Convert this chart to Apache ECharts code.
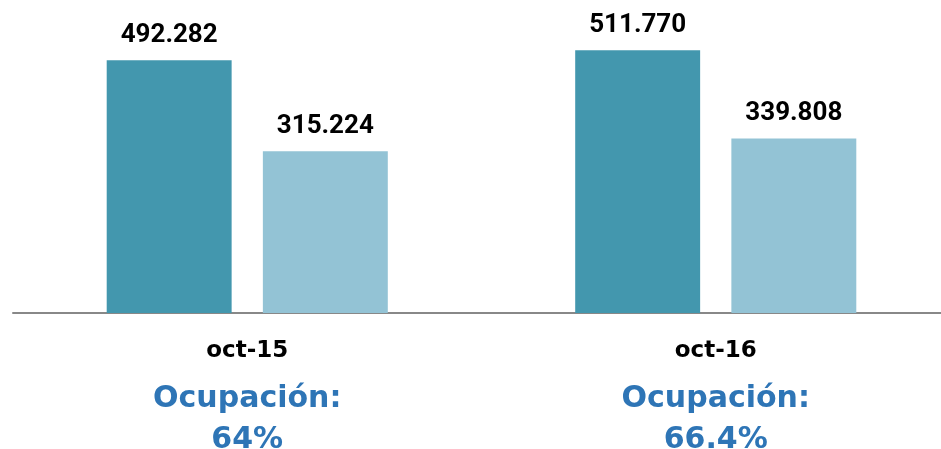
<!DOCTYPE html>
<html>
<head>
<meta charset="utf-8">
<script src="https://cdn.jsdelivr.net/npm/echarts@6/dist/echarts.min.js"></script>
<style>
  html, body { margin: 0; padding: 0; background: #fff; }
  #myChart { width: 941px; height: 449px; }
</style>
</head>
<body>
<div id="myChart"></div>
<script>
// datos
var categories = ['oct-15', 'oct-16'];
var serieA = [492282, 511770];
var serieB = [315224, 339808];
var ocupacion = ['64%', '66.4%'];

// 492282 -> "492.282"
function fmt(v) {
  return String(v).replace(/\B(?=(\d{3})+(?!\d))/g, '.');
}

var myChart = echarts.init(document.getElementById('myChart'));

var labelStyle = {
  show: true,
  position: 'top',
  distance: 12,
  color: '#000',
  fontSize: 26,
  fontWeight: 'bold',
  fontFamily: 'Roboto',
  formatter: function (p) { return fmt(p.value); }
};

var option = {
  animation: false,
  grid: { left: 13, right: -9, top: 5, bottom: 136, outerBoundsMode: 'none' },
  xAxis: {
    type: 'category',
    data: categories,
    axisLine: { lineStyle: { color: '#888', width: 2 } },
    axisTick: { show: false },
    axisLabel: {
      margin: 10,
      formatter: function (val, idx) {
        return '{a|' + val + '}\n{b|Ocupación:}\n{b|' + ocupacion[idx] + '}';
      },
      rich: {
        a: { fontSize: 23, fontWeight: 'bold', color: '#000', fontFamily: 'DejaVu Sans', lineHeight: 56 },
        b: { fontSize: 30, fontWeight: 'bold', color: '#2E75B6', fontFamily: 'DejaVu Sans', lineHeight: 41 }
      }
    }
  },
  yAxis: {
    type: 'value',
    min: 0,
    max: 600000,
    show: false,
    splitLine: { show: false }
  },
  series: [
    {
      type: 'bar',
      data: serieA,
      barGap: '25%',
      barCategoryGap: '40%',
      itemStyle: { color: '#4397AE' },
      label: labelStyle
    },
    {
      type: 'bar',
      data: serieB,
      itemStyle: { color: '#93C3D5' },
      label: labelStyle
    }
  ]
};

myChart.setOption(option);
</script>
</body>
</html>
